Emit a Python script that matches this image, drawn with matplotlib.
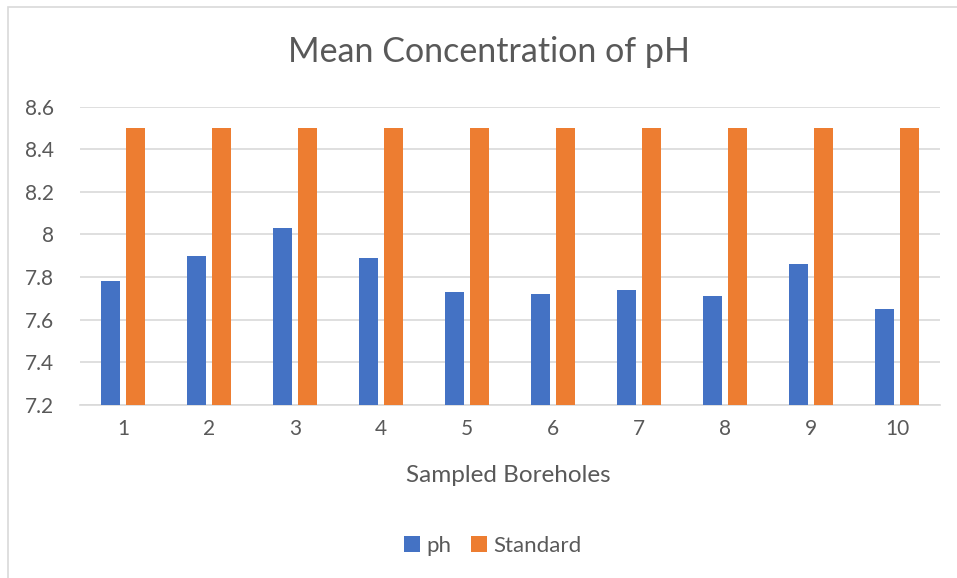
import numpy as np
import matplotlib
matplotlib.use('Agg')
from matplotlib import pyplot as plt
from matplotlib.patches import Rectangle

# Data
boreholes = ['1', '2', '3', '4', '5', '6', '7', '8', '9', '10']
ph = [7.78, 7.90, 8.03, 7.89, 7.73, 7.72, 7.74, 7.71, 7.86, 7.65]
standard = [8.5, 8.5, 8.5, 8.5, 8.5, 8.5, 8.5, 8.5, 8.5, 8.5]
yticks = [7.2, 7.4, 7.6, 7.8, 8.0, 8.2, 8.4, 8.6]
ytick_labels = ['7.2', '7.4', '7.6', '7.8', '8', '8.2', '8.4', '8.6']

text_col = '#595959'
plt.rcParams['font.family'] = ['Lato', 'DejaVu Sans']

fig = plt.figure(figsize=(9.57, 5.78), dpi=100)
ax = fig.add_axes([80 / 957, 1 - 405 / 578, 860 / 957, (405 - 106.5) / 578])

x = np.arange(1, len(boreholes) + 1)
w = 0.22
off = 0.145
ax.bar(x - off, [v - 7.2 for v in ph], w, bottom=7.2, color='#4472C4', label='ph', zorder=3)
ax.bar(x + off, [v - 7.2 for v in standard], w, bottom=7.2, color='#ED7D31', label='Standard', zorder=3)

ax.set_xlim(0.5, 10.5)
ax.set_ylim(7.2, 8.6)
ax.set_yticks(yticks)
ax.set_yticklabels(ytick_labels)
ax.set_xticks(x)
ax.set_xticklabels(boreholes)
ax.grid(axis='y', color='#D9D9D9', linewidth=1.2, zorder=0)
for s in ['top', 'right', 'left']:
    ax.spines[s].set_visible(False)
ax.spines['bottom'].set_color('#D9D9D9')
ax.spines['bottom'].set_linewidth(1.2)
ax.tick_params(length=0, labelsize=15, colors=text_col, pad=10)
ax.tick_params(axis='y', pad=19)

fig.text(0.511, 1 - 52 / 578, 'Mean Concentration of pH', ha='center', va='center',
         fontsize=24.5, color=text_col)
fig.text(0.531, 1 - 475 / 578, 'Sampled Boreholes', ha='center', va='center',
         fontsize=17.5, color=text_col)

fig.legend(loc='center', bbox_to_anchor=(0.515, 1 - 546 / 578), ncol=2, frameon=False,
           fontsize=16, handlelength=0.7, handleheight=0.7, handletextpad=0.3,
           columnspacing=0.9, labelcolor=text_col)

# chart border
fig.patches.append(Rectangle((8 / 957, -0.01), 1.2, 1 - 7 / 578 + 0.01, transform=fig.transFigure,
                             fill=False, edgecolor='#D9D9D9', linewidth=1.2))

fig.savefig('out.png', dpi=100)
